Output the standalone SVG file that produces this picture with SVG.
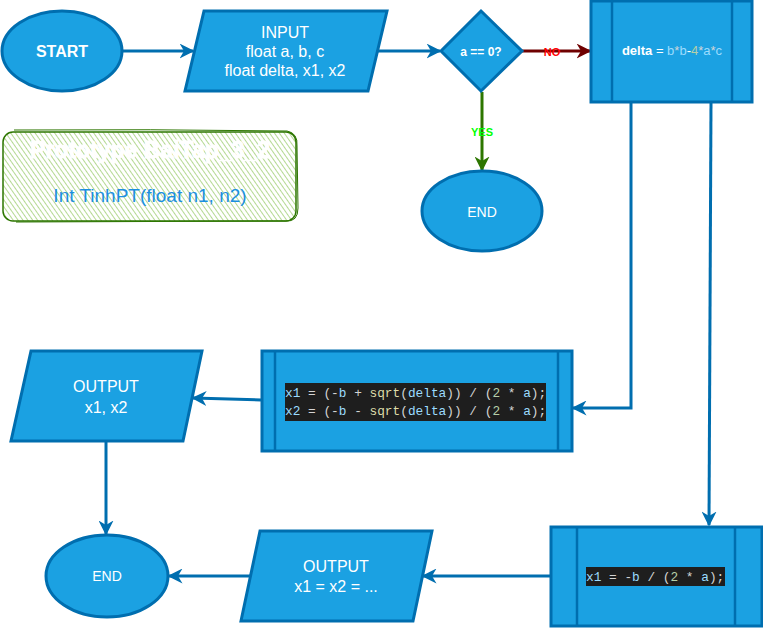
<svg xmlns="http://www.w3.org/2000/svg" width="763" height="628" viewBox="0 0 763 628">
<style>
.sh{fill:#1ba1e2;stroke:#006eaf;stroke-width:3}
.in{stroke:#006eaf;stroke-width:2.5;fill:none}
.t{font-family:"Liberation Sans",Arial,sans-serif;fill:#ffffff;text-anchor:middle}
.c{stroke:#006eaf;stroke-width:3;fill:none}
.code{font-family:"Liberation Mono","DejaVu Sans Mono",monospace;font-size:12.8px;fill:#d4d4d4;white-space:pre}
.v{fill:#9cdcfe}.f{fill:#dcdcaa}.n{fill:#b5cea8}
</style>
<defs>
<marker id="ab" viewBox="0 0 10 10" refX="9" refY="5" markerWidth="5" markerHeight="5" orient="auto" markerUnits="strokeWidth"><path d="M0,0 L10,5 L0,10 L3,5 Z" fill="#006eaf"/></marker>
<marker id="ar" viewBox="0 0 10 10" refX="9" refY="5" markerWidth="5" markerHeight="5" orient="auto" markerUnits="strokeWidth"><path d="M0,0 L10,5 L0,10 L3,5 Z" fill="#6f0000"/></marker>
<marker id="ag" viewBox="0 0 10 10" refX="9" refY="5" markerWidth="5" markerHeight="5" orient="auto" markerUnits="strokeWidth"><path d="M0,0 L10,5 L0,10 L3,5 Z" fill="#2d7600"/></marker>
<pattern id="hatch" patternUnits="userSpaceOnUse" width="4" height="4" patternTransform="rotate(-35)"><line x1="0" y1="0" x2="0" y2="4" stroke="#9ccc6e" stroke-width="1.5"/></pattern>
</defs>

<g id="connectors">
<line class="c" x1="123" y1="51" x2="193" y2="51" marker-end="url(#ab)"/>
<line class="c" x1="377" y1="51" x2="440" y2="51" marker-end="url(#ab)"/>
<line x1="522" y1="51" x2="590" y2="51" stroke="#6f0000" stroke-width="3" marker-end="url(#ar)"/>
<text x="552" y="56" font-family="Liberation Sans,Arial,sans-serif" font-size="11" font-weight="bold" fill="#ff0000" text-anchor="middle">NO</text>
<line x1="482" y1="92" x2="482" y2="170" stroke="#2d7600" stroke-width="3" marker-end="url(#ag)"/>
<text x="482" y="136" font-family="Liberation Sans,Arial,sans-serif" font-size="11" font-weight="bold" fill="#00ff00" text-anchor="middle">YES</text>
<polyline class="c" points="631,102 631,408 573,408" marker-end="url(#ab)"/>
<line class="c" x1="711" y1="102" x2="709" y2="525" marker-end="url(#ab)"/>
<line class="c" x1="261" y1="400" x2="193" y2="398" marker-end="url(#ab)"/>
<line class="c" x1="106" y1="441" x2="106" y2="534" marker-end="url(#ab)"/>
<line class="c" x1="551" y1="576" x2="423" y2="576" marker-end="url(#ab)"/>
<line class="c" x1="250" y1="576" x2="169" y2="576" marker-end="url(#ab)"/>
</g>

<g id="start">
<ellipse class="sh" cx="62" cy="51" rx="60" ry="40"/>
<text class="t" x="62" y="57" font-size="16" font-weight="bold">START</text>
</g>

<g id="input">
<polygon class="sh" points="204,11 387,11 368,91 185,91"/>
<text class="t" x="285" y="38" font-size="16">INPUT</text>
<text class="t" x="285" y="57" font-size="16">float a, b, c</text>
<text class="t" x="285" y="76" font-size="16">float delta, x1, x2</text>
</g>

<g id="decision">
<polygon class="sh" points="481,11 522,51 481,91 441,51"/>
<text class="t" x="481" y="56" font-size="12" font-weight="bold">a == 0?</text>
</g>

<g id="delta">
<rect class="sh" x="591" y="1" width="161" height="101"/>
<line class="in" x1="612" y1="1" x2="612" y2="102"/>
<line class="in" x1="732" y1="1" x2="732" y2="102"/>
<text x="672" y="55" font-family="Liberation Sans,Arial,sans-serif" font-size="13" text-anchor="middle" fill="#ffffff"><tspan font-weight="bold">delta</tspan> = <tspan fill="#9cdcfe">b</tspan><tspan fill="#d4d4d4">*</tspan><tspan fill="#9cdcfe">b</tspan>-<tspan fill="#b5cea8">4</tspan><tspan fill="#d4d4d4">*</tspan><tspan fill="#9cdcfe">a</tspan><tspan fill="#d4d4d4">*</tspan><tspan fill="#9cdcfe">c</tspan></text>
</g>

<g id="end-top">
<ellipse class="sh" cx="482" cy="211" rx="60" ry="40"/>
<text class="t" x="482" y="217" font-size="14">END</text>
</g>

<g id="prototype">
<rect x="3" y="132" width="293" height="89" rx="10" fill="url(#hatch)"/>
<rect x="3" y="132" width="293" height="89" rx="10" fill="none" stroke="#2d7600" stroke-width="1.5"/>
<path d="M14,130 Q150,129 287,131 Q298,133 297,146 L298,208 Q298,222 286,221 L16,222" fill="none" stroke="#2d7600" stroke-width="1"/>
<text class="t" x="150" y="158" font-size="23" font-weight="bold" stroke="#ffffff" stroke-width="0.8">Prototype BaiTap_3_2</text>
<text x="150" y="202" font-family="Liberation Sans,Arial,sans-serif" font-size="19" fill="#1c8fe0" text-anchor="middle">Int TinhPT(float n1, n2)</text>
</g>

<g id="calc-roots">
<rect class="sh" x="262" y="351" width="310" height="100"/>
<line class="in" x1="275" y1="351" x2="275" y2="451"/>
<line class="in" x1="558" y1="351" x2="558" y2="451"/>
<rect x="285" y="383" width="261" height="38" fill="#1e1e1e"/>
<text class="code" x="285" y="397"><tspan class="v">x1</tspan> = (-<tspan class="v">b</tspan> + <tspan class="f">sqrt</tspan>(<tspan class="v">delta</tspan>)) / (<tspan class="n">2</tspan> * <tspan class="v">a</tspan>);</text>
<text class="code" x="285" y="415"><tspan class="v">x2</tspan> = (-<tspan class="v">b</tspan> - <tspan class="f">sqrt</tspan>(<tspan class="v">delta</tspan>)) / (<tspan class="n">2</tspan> * <tspan class="v">a</tspan>);</text>
</g>

<g id="output-two">
<polygon class="sh" points="31,351 202,351 183,441 11,441"/>
<text class="t" x="106" y="392" font-size="16">OUTPUT</text>
<text class="t" x="106" y="413" font-size="16">x1, x2</text>
</g>

<g id="end-bottom">
<ellipse class="sh" cx="107" cy="576" rx="61" ry="41"/>
<text class="t" x="107" y="581" font-size="14">END</text>
</g>

<g id="output-one">
<polygon class="sh" points="260,531 432,531 413,621 241,621"/>
<text class="t" x="336" y="572" font-size="16">OUTPUT</text>
<text class="t" x="336" y="592" font-size="16">x1 = x2 = ...</text>
</g>

<g id="calc-single">
<rect class="sh" x="551" y="527" width="211" height="99"/>
<line class="in" x1="577" y1="527" x2="577" y2="626"/>
<line class="in" x1="735" y1="527" x2="735" y2="626"/>
<rect x="586" y="567" width="139" height="19" fill="#1e1e1e"/>
<text class="code" x="586" y="581"><tspan class="v">x1</tspan> = -<tspan class="v">b</tspan> / (<tspan class="n">2</tspan> * <tspan class="v">a</tspan>);</text>
</g>
</svg>
